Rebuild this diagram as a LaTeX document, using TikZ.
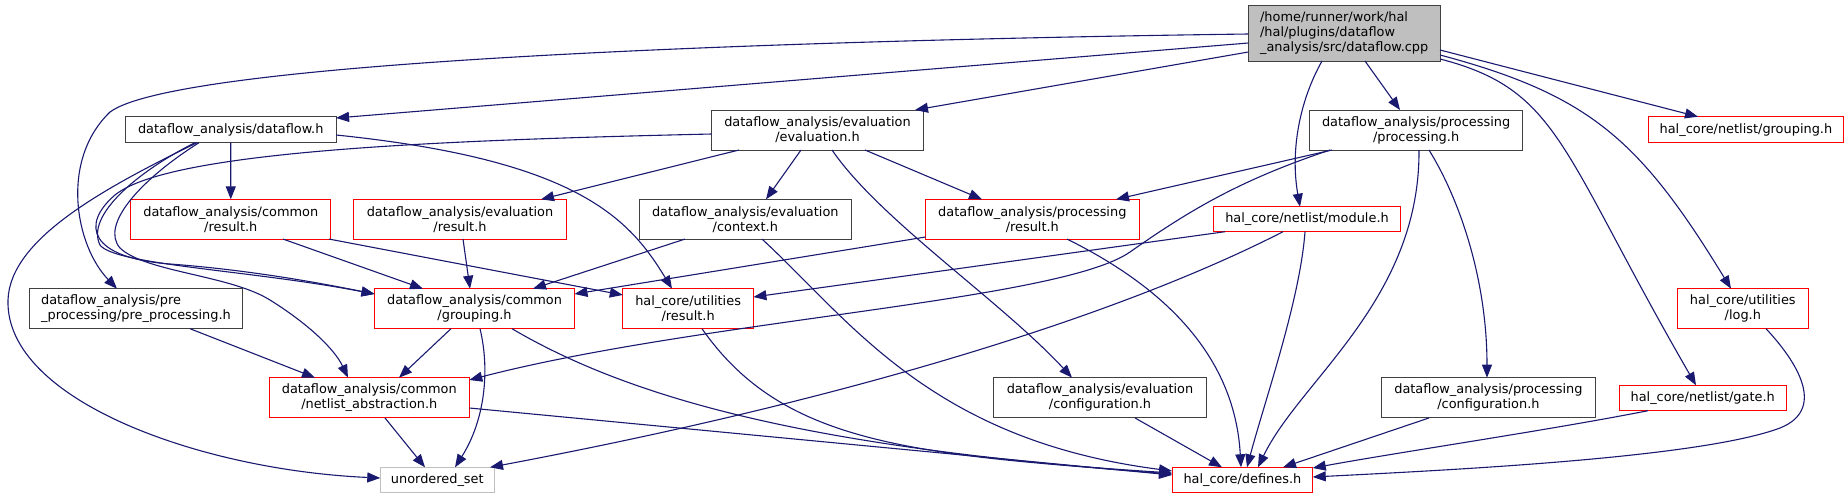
\documentclass[tikz,border=0pt]{standalone}
\usepackage{fontspec}
\newfontfamily\dvs{DejaVu Sans}
\usetikzlibrary{arrows.meta}
\definecolor{mblue}{HTML}{191970}
\definecolor{nborder}{HTML}{404040}
\definecolor{rootfill}{HTML}{BFBFBF}
\definecolor{lgray}{HTML}{BFBFBF}
\begin{document}
\begin{tikzpicture}[x=1pt,y=-1pt,
  nbase/.style={rectangle, inner sep=0pt, outer sep=0pt, line width=1pt, fill=white,
    font={\dvs\fontsize{12.9}{15}\selectfont}, align=center, text=black},
  nblk/.style={nbase, draw=nborder},
  nred/.style={nbase, draw=red},
  ngry/.style={nbase, draw=lgray},
  nroot/.style={nbase, draw=nborder, fill=rootfill, align=left},
  conn/.style={draw=mblue, line width=1.1pt, -{Triangle[length=13pt,width=10pt]}},
]
\useasboundingbox (0,0) rectangle (1848,499);

% nodes
\node[nroot, minimum width=191.8pt, minimum height=55.3pt] (root) at (1344.2,33.35)
  {/home/runner/work/hal\\/hal/plugins/dataflow\\\_analysis/src/dataflow.cpp};
\node[nblk, minimum width=210.8pt, minimum height=26pt] (dflow) at (230.7,129.7) {dataflow\_analysis/dataflow.h};
\node[nblk, minimum width=212pt, minimum height=40pt] (eval) at (817.5,130) {dataflow\_analysis/evaluation\\/evaluation.h};
\node[nblk, minimum width=213.2pt, minimum height=40pt] (proc) at (1416.1,130) {dataflow\_analysis/processing\\/processing.h};
\node[nred, minimum width=195.1pt, minimum height=26pt] (ngrp) at (1745.9,129.7) {hal\_core/netlist/grouping.h};

\node[nred, minimum width=200pt, minimum height=39.7pt] (cres) at (230.8,219.2) {dataflow\_analysis/common\\/result.h};
\node[nred, minimum width=212.3pt, minimum height=39.7pt] (eres) at (460,219.2) {dataflow\_analysis/evaluation\\/result.h};
\node[nblk, minimum width=211.8pt, minimum height=39.7pt] (ctx) at (745.3,219.2) {dataflow\_analysis/evaluation\\/context.h};
\node[nred, minimum width=213.5pt, minimum height=39.7pt] (pres) at (1032.3,219.2) {dataflow\_analysis/processing\\/result.h};
\node[nred, minimum width=187pt, minimum height=25pt] (mod) at (1307,219.2) {hal\_core/netlist/module.h};

\node[nblk, minimum width=213.5pt, minimum height=40pt, align=left] (pre) at (136,308.7) {dataflow\_analysis/pre\\\_processing/pre\_processing.h};
\node[nred, minimum width=200pt, minimum height=40pt] (cgrp) at (474.5,308.7) {dataflow\_analysis/common\\/grouping.h};
\node[nred, minimum width=130.6pt, minimum height=40pt] (ures) at (688.1,308.7) {hal\_core/utilities\\/result.h};
\node[nred, minimum width=131pt, minimum height=40pt] (log) at (1742.8,308.7) {hal\_core/utilities\\/log.h};

\node[nred, minimum width=200pt, minimum height=40.3pt] (nabs) at (369.3,397.8) {dataflow\_analysis/common\\/netlist\_abstraction.h};
\node[nblk, minimum width=212.2pt, minimum height=40.3pt] (econf) at (1100,397.8) {dataflow\_analysis/evaluation\\/configuration.h};
\node[nblk, minimum width=213.2pt, minimum height=40.3pt] (pconf) at (1488.4,397.8) {dataflow\_analysis/processing\\/configuration.h};
\node[nred, minimum width=166.6pt, minimum height=25.4pt] (gate) at (1702.7,398) {hal\_core/netlist/gate.h};

\node[ngry, minimum width=114pt, minimum height=25pt] (uset) at (437.3,479.8) {unordered\_set};
\node[nred, minimum width=140.7pt, minimum height=25pt] (def) at (1242.4,479.8) {hal\_core/defines.h};

% root edges
\draw[conn] (root.west|-0,34) .. controls (800,40) and (180,60) .. (110,112) .. controls (60,160) and (75,245) .. (pre.north-|117,0);
\draw[conn] (root.west|-0,43) -- (dflow.east|-0,118);
\draw[conn] (root.west|-0,52) -- (eval.north-|915,0);
\draw[conn] (root.south-|1322,0) .. controls (1300,100) and (1290,150) .. (mod.north-|1300,0);
\draw[conn] (root.south-|1365,0) -- (proc.north-|1400,0);
\draw[conn] (root.east|-0,50) -- (ngrp.north-|1698,0);
\draw[conn] (root.east|-0,55) .. controls (1590,95) and (1640,140) .. (log.north-|1731,0);
\draw[conn] (root.east|-0,59) .. controls (1560,90) and (1560,150) .. (gate.north-|1696,0);

% dataflow.h edges
\draw[conn] (dflow) -- (cres);
\draw[conn] (dflow.east|-0,135) .. controls (580,160) and (630,220) .. (ures.north-|672,0);
\draw[conn] (dflow.south-|197,0) .. controls (100,190) and (10,240) .. (8,300) .. controls (5,400) and (200,470) .. (uset.west|-0,478);
\draw[conn] (dflow.south-|195,0) .. controls (140,170) and (85,215) .. (100,245) .. controls (115,265) and (250,270) .. (cgrp.west|-0,294);
\draw[conn] (dflow.south-|199,0) .. controls (140,180) and (100,225) .. (120,248) .. controls (145,272) and (230,275) .. (270,300) .. controls (310,325) and (335,350) .. (nabs.north-|348,0);

% evaluation.h edges
\draw[conn] (eval.west|-0,134) .. controls (450,140) and (170,150) .. (115,195) .. controls (80,225) and (90,258) .. (170,264) .. controls (250,270) and (320,283) .. (cgrp.west|-0,294);
\draw[conn] (eval.south-|739,0) -- (eres.north-|541,0);
\draw[conn] (eval.south-|801,0) -- (ctx.north-|766,0);
\draw[conn] (eval.south-|832,0) .. controls (880,220) and (1000,300) .. (econf.north-|1072,0);
\draw[conn] (eval.south-|865,0) -- (pres.north-|982,0);

% second rank edges
\draw[conn] (cres.south-|283,0) -- (cgrp.north-|423,0);
\draw[conn] (cres.south-|329,0) -- (ures.west|-0,295);
\draw[conn] (eres.south-|463,0) -- (cgrp.north-|470,0);
\draw[conn] (ctx.south-|685,0) -- (cgrp.north-|533,0);
\draw[conn] (ctx.south-|762,0) .. controls (850,320) and (930,440) .. (def.west|-0,471);
\draw[conn] (pres.west|-0,237) -- (cgrp.east|-0,294);
\draw[conn] (pres.south-|1067,0) .. controls (1170,290) and (1235,360) .. (def.north-|1241,0);

% processing.h edges
\draw[conn] (proc.south-|1332,0) -- (pres.north-|1116,0);
\draw[conn] (proc.south-|1330,0) .. controls (1240,180) and (1190,210) .. (1130,252) .. controls (1060,301) and (700,320) .. (nabs.east|-0,380);
\draw[conn] (proc.south-|1419,0) .. controls (1420,300) and (1300,380) .. (def.north-|1258,0);
\draw[conn] (proc.south-|1429,0) .. controls (1460,200) and (1487,280) .. (pconf.north-|1487,0);

% module.h edges
\draw[conn] (mod.south-|1225,0) -- (ures.east|-0,297);
\draw[conn] (mod.south-|1283,0) .. controls (1150,300) and (900,390) .. (uset.north-|490,0);
\draw[conn] (mod.south-|1305,0) .. controls (1300,300) and (1265,400) .. (def.north-|1247,0);

% lower edges
\draw[conn] (pre.south-|190,0) -- (nabs.north-|315,0);
\draw[conn] (cgrp.south-|451,0) -- (nabs.north-|399,0);
\draw[conn] (cgrp.south-|480,0) .. controls (490,370) and (485,420) .. (uset.north-|455,0);
\draw[conn] (cgrp.south-|512,0) .. controls (650,410) and (850,450) .. (def.west|-0,474);
\draw[conn] (nabs.south-|385,0) -- (uset.north-|425,0);
\draw[conn] (nabs.east|-0,408) -- (def.west|-0,475);
\draw[conn] (ures.south-|702,0) .. controls (780,440) and (900,455) .. (def.west|-0,473);
\draw[conn] (econf.south-|1135,0) -- (def.north-|1222,0);
\draw[conn] (pconf.south-|1429,0) -- (def.north-|1283,0);
\draw[conn] (gate.south-|1648,0) .. controls (1550,430) and (1400,452) .. (def.east|-0,468);
\draw[conn] (log.south-|1766,0) .. controls (1800,365) and (1825,410) .. (1780,428) .. controls (1700,458) and (1450,470) .. (def.east|-0,477);
\end{tikzpicture}
\end{document}
